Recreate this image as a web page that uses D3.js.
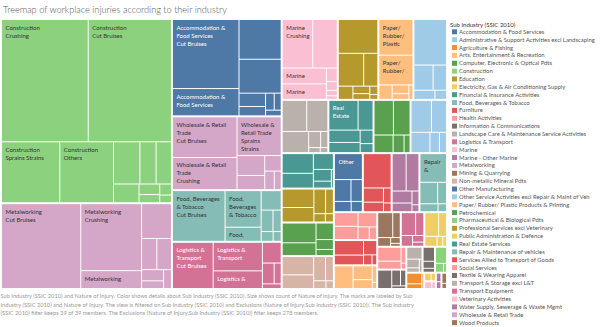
<!DOCTYPE html>
<html>
<head>
<meta charset="utf-8">
<script src="https://cdn.jsdelivr.net/npm/d3@7"></script>
<style>
  body { margin: 0; background: #fff; }
  svg text { font-family: Lato, "Open Sans", sans-serif; }
</style>
</head>
<body>
<svg id="chart" width="600" height="327"></svg>
<script>
  // Sub industries, in legend order
  const industries = [
    'Accommodation & Food Services',
    'Administrative & Support Activities excl Landscaping',
    'Agriculture & Fishing',
    'Arts, Entertainment & Recreation',
    'Computer, Electronic & Optical Pdts',
    'Construction',
    'Education',
    'Electricity, Gas & Air Conditioning Supply',
    'Financial & Insurance Activities',
    'Food, Beverages & Tobacco',
    'Furniture',
    'Health Activities',
    'Information & Communications',
    'Landscape Care & Maintenance Service Activities',
    'Logistics & Transport',
    'Marine',
    'Marine - Other Marine',
    'Metalworking',
    'Mining & Quarrying',
    'Non-metallic Mineral Pdts',
    'Other Manufacturing',
    'Other Service Activities excl Repair & Maint of Veh',
    'Paper/ Rubber/ Plastic Products & Printing',
    'Petrochemical',
    'Pharmaceutical & Biological Pdts',
    'Professional Services excl Veterinary',
    'Public Administration & Defence',
    'Real Estate Services',
    'Repair & Maintenance of vehicles',
    'Services Allied to Transport of Goods',
    'Social Services',
    'Textile & Wearing Apparel',
    'Transport & Storage excl L&T',
    'Transport Equipment',
    'Veterinary Activities',
    'Water Supply, Sewerage & Waste Mgmt',
    'Wholesale & Retail Trade',
    'Wood Products'
  ];

  const industryColors = [
    '#4e79a7', '#a0cbe8', '#f28e2b', '#ffbe7d', '#59a14f', '#8cd17d', '#b6992d', '#f1ce63',
    '#499894', '#86bcb6', '#e15759', '#ff9d9a', '#79706e', '#bab0ac', '#d37295', '#fabfd2',
    '#b07aa1', '#d4a6c8', '#9d7660', '#d7b5a6', '#4e79a7', '#a0cbe8', '#ffbe7d', '#59a14f',
    '#8cd17d', '#b6992d', '#f1ce63', '#499894', '#86bcb6', '#e15759', '#ff9d9a', '#79706e',
    '#bab0ac', '#d37295', '#fabfd2', '#b07aa1', '#d4a6c8', '#9d7660'
  ];

  const injuryTypes = [
    'Cut Bruises', 'Crushing', 'Sprains Strains', 'Others', 'Fractures', 'Burns',
    'Dislocation', 'Amputation', 'Eye Injury', 'Concussion', 'Electrocution', 'Asphyxiation'
  ];

  // count of injuries per sub industry, columns follow injuryTypes
  const injuryCounts = [
    [466, 36, 170, 145, 25, 184, 15, 0, 12, 9, 0, 0],
    [154, 11, 50, 35, 20, 0, 0, 0, 0, 0, 0, 0],
    [18, 0, 8, 3, 0, 0, 0, 0, 0, 0, 0, 0],
    [28, 3, 45, 18, 8, 0, 0, 0, 0, 0, 0, 0],
    [70, 60, 35, 20, 0, 11, 0, 0, 0, 0, 0, 0],
    [1023, 1066, 357, 329, 112, 69, 65, 48, 22, 17, 13, 9],
    [48, 10, 61, 30, 20, 7, 0, 0, 0, 0, 0, 0],
    [6, 0, 4, 0, 0, 0, 0, 0, 0, 0, 0, 0],
    [48, 13, 64, 33, 22, 0, 4, 0, 0, 0, 0, 0],
    [273, 135, 40, 52, 18, 26, 8, 12, 0, 0, 0, 0],
    [30, 45, 20, 9, 5, 0, 0, 0, 0, 0, 0, 0],
    [33, 10, 34, 28, 15, 0, 0, 0, 0, 0, 0, 0],
    [15, 0, 28, 9, 4, 0, 0, 0, 0, 0, 0, 0],
    [79, 20, 68, 58, 12, 4, 0, 0, 6, 0, 0, 0],
    [193, 144, 89, 40, 25, 9, 15, 0, 0, 0, 0, 0],
    [122, 152, 70, 72, 15, 10, 4, 0, 6, 0, 0, 0],
    [50, 55, 25, 18, 10, 5, 0, 0, 0, 0, 0, 0],
    [680, 412, 105, 110, 48, 46, 17, 15, 25, 0, 0, 0],
    [20, 40, 12, 6, 3, 0, 0, 0, 0, 0, 0, 0],
    [45, 60, 30, 20, 10, 6, 0, 0, 0, 0, 0, 0],
    [76, 38, 26, 18, 0, 12, 0, 0, 0, 0, 0, 0],
    [68, 20, 50, 40, 15, 0, 0, 0, 0, 0, 0, 0],
    [105, 126, 20, 15, 6, 10, 0, 0, 0, 0, 0, 0],
    [70, 45, 30, 18, 0, 11, 0, 0, 0, 0, 0, 0],
    [20, 0, 8, 0, 0, 3, 0, 0, 0, 0, 0, 0],
    [138, 48, 86, 20, 13, 10, 7, 0, 4, 0, 0, 0],
    [20, 4, 35, 13, 6, 0, 0, 0, 0, 0, 0, 0],
    [90, 40, 46, 33, 18, 12, 0, 0, 0, 0, 0, 0],
    [80, 40, 20, 15, 0, 7, 0, 0, 0, 0, 0, 0],
    [100, 30, 20, 12, 7, 0, 0, 0, 0, 0, 0, 0],
    [20, 0, 35, 8, 3, 0, 0, 0, 0, 0, 0, 0],
    [18, 0, 9, 5, 0, 0, 0, 0, 0, 0, 0, 0],
    [20, 12, 6, 4, 0, 0, 0, 0, 0, 0, 0, 0],
    [35, 20, 13, 8, 0, 5, 0, 0, 0, 0, 0, 0],
    [6, 0, 3, 0, 0, 0, 0, 0, 0, 0, 0, 0],
    [5, 0, 4, 0, 0, 0, 0, 0, 0, 0, 0, 0],
    [267, 211, 174, 56, 40, 26, 18, 13, 0, 0, 0, 0],
    [6, 3, 0, 0, 0, 0, 0, 0, 0, 0, 0, 0]
  ];

  const titleText = 'Treemap of workplace injuries according to their industry';
  const legendTitle = 'Sub Industry  (SSIC 2010)';
  const captionLines = [
    'Sub Industry  (SSIC 2010) and Nature of Injury.  Color shows details about Sub Industry  (SSIC 2010).  Size shows count of Nature of Injury.  The marks are labeled by Sub',
    'Industry  (SSIC 2010) and Nature of Injury. The view is filtered on Sub Industry  (SSIC 2010) and Exclusions (Nature of Injury,Sub Industry  (SSIC 2010)). The Sub Industry',
    '(SSIC 2010) filter keeps 39 of 39 members. The Exclusions (Nature of Injury,Sub Industry  (SSIC 2010)) filter keeps 278 members.'
  ];

  const plot = { left: 2, top: 20, width: 444, height: 268 };
  const labelSize = 6;
  const lineHeight = 8;

  const svg = d3.select('#chart');

  const color = d3.scaleOrdinal().domain(industries).range(industryColors);

  // two level hierarchy: sub industry -> nature of injury
  const root = d3.hierarchy({
      children: industries.map((name, i) => ({
        name,
        children: injuryTypes
          .map((injury, j) => ({ injury, value: injuryCounts[i][j] }))
          .filter((d) => d.value > 0)
      }))
    })
    .sum((d) => d.value || 0)
    .sort((a, b) => b.value - a.value);

  d3.treemap()
    .tile(d3.treemapSquarify.ratio(1.59))
    .size([plot.width, plot.height])
    .paddingInner((d) => (d.depth === 0 ? 2 : 1))(root);

  svg.append('text')
    .attr('x', 3)
    .attr('y', 13)
    .attr('fill', '#555')
    .attr('font-size', 9.2)
    .attr('font-weight', 300)
    .text(titleText);

  const g = svg.append('g')
    .attr('transform', `translate(${plot.left},${plot.top})`);

  const leaves = g.selectAll('g.cell')
    .data(root.leaves())
    .join('g')
    .attr('class', 'cell')
    .attr('transform', (d) => `translate(${d.x0},${d.y0})`);

  leaves.append('rect')
    .attr('width', (d) => Math.max(0, d.x1 - d.x0))
    .attr('height', (d) => Math.max(0, d.y1 - d.y0))
    .attr('fill', (d) => color(d.parent.data.name));

  // word wrapping for the mark labels; the first line gets a wider inset
  const ctx = document.createElement('canvas').getContext('2d');
  ctx.font = `${labelSize}px Lato`;
  const measure = (s) => ctx.measureText(s).width;

  const labelLines = (d) => {
    const w = d.x1 - d.x0;
    const h = d.y1 - d.y0;
    const allowed = Math.max(0, Math.floor((h - 13) / lineHeight) + 1);
    const limit = (n) => (n === 0 ? w - 8 : w - 5);
    const out = [];
    for (const field of [d.parent.data.name, d.data.injury]) {
      let line = '';
      for (const word of field.split(' ')) {
        const test = line ? line + ' ' + word : word;
        if (measure(test) <= limit(out.length)) {
          line = test;
          continue;
        }
        if (!line) return out.slice(0, allowed);
        out.push(line);
        line = word;
        if (measure(line) > limit(out.length)) return out.slice(0, allowed);
      }
      if (line) out.push(line);
    }
    return out.slice(0, allowed);
  };

  const textColor = (d) =>
    d3.lab(color(d.parent.data.name)).l < 65 ? '#ffffff' : '#333333';

  leaves.append('text')
    .attr('font-size', labelSize)
    .attr('fill', textColor)
    .selectAll('tspan')
    .data((d) => labelLines(d))
    .join('tspan')
    .attr('x', 3.5)
    .attr('y', (d, i) => 9.5 + i * lineHeight)
    .text((d) => d);

  // legend
  const legend = svg.append('g')
    .attr('transform', 'translate(450,0)');

  legend.append('text')
    .attr('x', 0)
    .attr('y', 26.5)
    .attr('font-size', 6)
    .attr('fill', '#333')
    .text(legendTitle);

  const legendY = d3.scalePoint()
    .domain(industries)
    .range([31.8, 31.8 + 7.86 * (industries.length - 1)]);

  const items = legend.selectAll('g.item')
    .data(industries)
    .join('g')
    .attr('class', 'item')
    .attr('transform', (d) => `translate(0,${legendY(d)})`);

  items.append('rect')
    .attr('x', 2)
    .attr('y', -2.5)
    .attr('width', 5)
    .attr('height', 5)
    .attr('fill', (d) => color(d));

  items.append('text')
    .attr('x', 9)
    .attr('y', 2)
    .attr('font-size', 5.9)
    .attr('fill', '#555')
    .text((d) => d);

  // caption under the chart
  svg.append('g')
    .selectAll('text')
    .data(captionLines)
    .join('text')
    .attr('x', 0.5)
    .attr('y', (d, i) => 298 + i * 8.7)
    .attr('font-size', 5.7)
    .attr('fill', '#999')
    .text((d) => d);
</script>
</body>
</html>
